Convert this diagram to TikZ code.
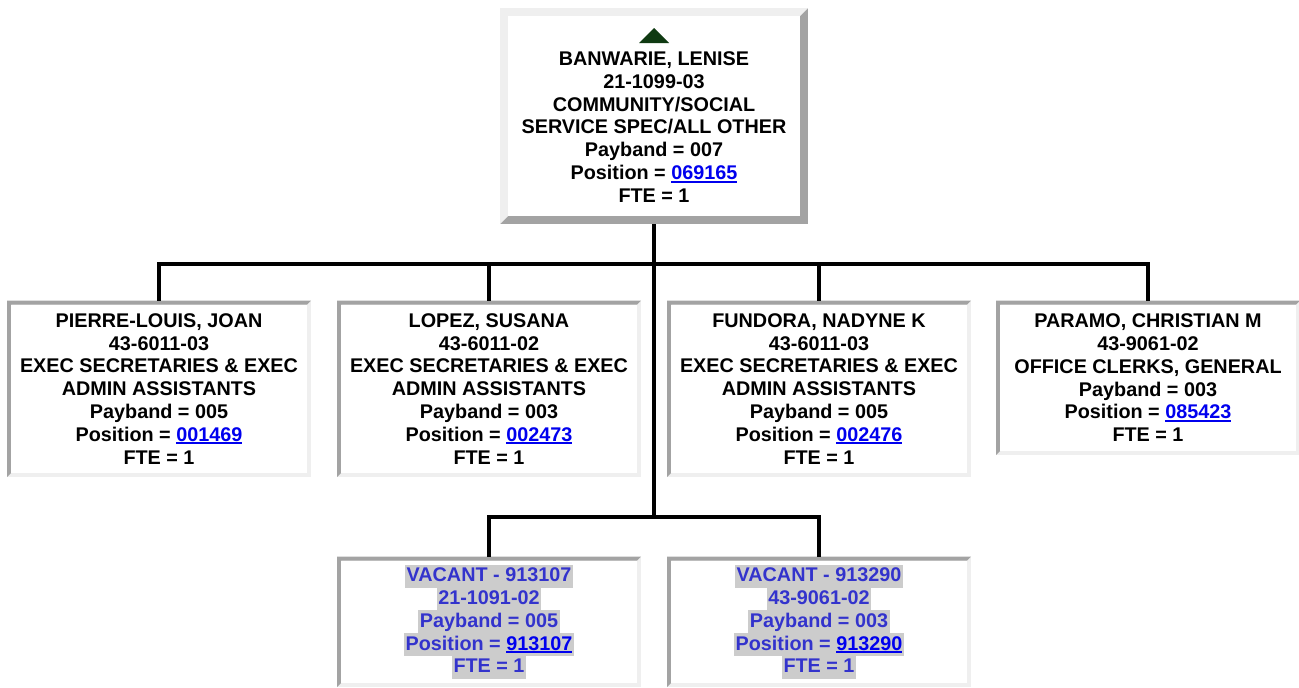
\documentclass[tikz,border=0pt]{standalone}
\usepackage{fontspec}
\setmainfont{Liberation Sans}
\usetikzlibrary{backgrounds}

\definecolor{edgedark}{HTML}{A3A3A3}
\definecolor{edgelight}{HTML}{EFEFEF}
\definecolor{linkblue}{HTML}{0000EE}
\definecolor{vacblue}{HTML}{3333CC}
\definecolor{hlgray}{HTML}{CCCCCC}
\definecolor{apexgreen}{HTML}{0F3A12}

\newcommand{\poslink}[1]{\textcolor{linkblue}{\setbox0\hbox{#1}\rlap{\rule[-3pt]{\wd0}{1.8pt}}\box0}}
\newcommand{\vacline}[1]{{\setlength{\fboxsep}{0pt}\colorbox{hlgray}{\kern1.5pt\rule[-5.8pt]{0pt}{22.8pt}#1\kern1.5pt}}}

\begin{document}
\begin{tikzpicture}[x=1pt, y=-1pt,
    card/.style={font=\bfseries\fontsize{19.8}{22.8}\selectfont, align=center,
                 minimum width=304pt, inner sep=0pt, outer sep=0pt},
    wire/.style={line width=3.8pt}]

  \useasboundingbox (0,0) rectangle (1299,688);

  % Manager
  \node[card, minimum width=308pt, minimum height=216pt] (boss) at (654,116)
    {\rule{0pt}{13pt}\\
     BANWARIE, LENISE\\ 21-1099-03\\ COMMUNITY/SOCIAL\\ SERVICE SPEC/ALL OTHER\\
     Payband = 007\\ Position = \poslink{069165}\\ FTE = 1};
  \fill[apexgreen] ([yshift=-20pt]boss.north) -- ++(15pt,-15pt) -- ++(-30pt,0pt) -- cycle;

  % Direct reports
  \node[card, anchor=north, minimum height=176.5pt] (c1) at (159,300.5)
    {PIERRE-LOUIS, JOAN\\ 43-6011-03\\ EXEC SECRETARIES \& EXEC\\ ADMIN ASSISTANTS\\
     Payband = 005\\ Position = \poslink{001469}\\ FTE = 1};
  \node[card, anchor=north, minimum height=176.5pt] (c2) at (489,300.5)
    {LOPEZ, SUSANA\\ 43-6011-02\\ EXEC SECRETARIES \& EXEC\\ ADMIN ASSISTANTS\\
     Payband = 003\\ Position = \poslink{002473}\\ FTE = 1};
  \node[card, anchor=north, minimum height=176.5pt] (c3) at (819,300.5)
    {FUNDORA, NADYNE K\\ 43-6011-03\\ EXEC SECRETARIES \& EXEC\\ ADMIN ASSISTANTS\\
     Payband = 005\\ Position = \poslink{002476}\\ FTE = 1};
  \node[card, anchor=north, minimum height=154.5pt] (c4) at (1148,300.5)
    {PARAMO, CHRISTIAN M\\ 43-9061-02\\ OFFICE CLERKS, GENERAL\\
     Payband = 003\\ Position = \poslink{085423}\\ FTE = 1};

  % Vacancies
  \node[card, anchor=north, minimum height=130.5pt, text=vacblue] (v1) at (489,556.5)
    {\vacline{VACANT - 913107}\\ \vacline{21-1091-02}\\ \vacline{Payband = 005}\\
     \vacline{Position = \poslink{913107}}\\ \vacline{FTE = 1}};
  \node[card, anchor=north, minimum height=130.5pt, text=vacblue] (v2) at (819,556.5)
    {\vacline{VACANT - 913290}\\ \vacline{43-9061-02}\\ \vacline{Payband = 003}\\
     \vacline{Position = \poslink{913290}}\\ \vacline{FTE = 1}};

  % Frames
  \begin{pgfonlayer}{background}
    \fill[edgedark] (boss.north west) rectangle (boss.south east);
    \fill[edgelight] (boss.south west) -- (boss.north west) -- (boss.north east)
      -- ([xshift=-8pt,yshift=-8pt]boss.north east) -- ([xshift=8pt,yshift=-8pt]boss.north west)
      -- ([xshift=8pt,yshift=8pt]boss.south west) -- cycle;
    \fill[white] ([xshift=8pt,yshift=-8pt]boss.north west) rectangle ([xshift=-8pt,yshift=8pt]boss.south east);
    \foreach \b in {c1,c2,c3,c4,v1,v2} {
      \fill[edgelight] (\b.north west) rectangle (\b.south east);
      \fill[edgedark] (\b.south west) -- (\b.north west) -- (\b.north east)
        -- ([xshift=-4pt,yshift=-4pt]\b.north east) -- ([xshift=4pt,yshift=-4pt]\b.north west)
        -- ([xshift=4pt,yshift=4pt]\b.south west) -- cycle;
      \fill[white] ([xshift=4pt,yshift=-4pt]\b.north west) rectangle ([xshift=-4pt,yshift=4pt]\b.south east);
    }
  \end{pgfonlayer}

  % Connectors
  \coordinate (bus) at (654,264);
  \coordinate (vbus) at (654,517);
  \draw[wire] (boss.south) -- (vbus);
  \draw[wire] (c1.north) -- (c1.north |- bus) -- (c4.north |- bus) -- (c4.north);
  \draw[wire] (c2.north) -- (c2.north |- bus);
  \draw[wire] (c3.north) -- (c3.north |- bus);
  \draw[wire] (v1.north) -- (v1.north |- vbus) -- (v2.north |- vbus) -- (v2.north);

\end{tikzpicture}
\end{document}
